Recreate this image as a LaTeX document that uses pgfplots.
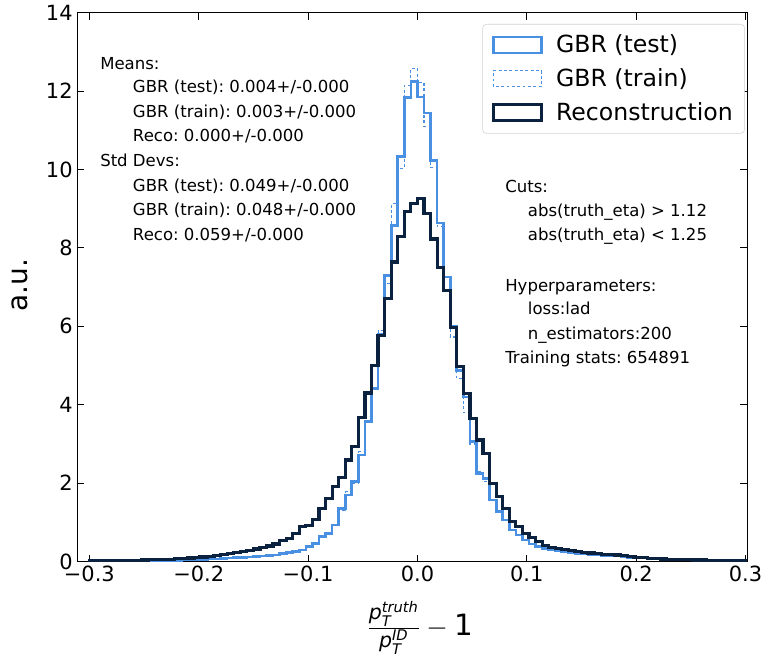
\documentclass[border=0pt]{standalone}
\usepackage{fontspec}
\setmainfont{DejaVu Sans}
\usepackage{amsmath}
\usepackage{pgfplots}
\pgfplotsset{compat=1.18}
\usepackage{pgfplotstable}
\definecolor{gbrblue}{HTML}{4A90E2}
\definecolor{reconavy}{HTML}{0A2240}
\frenchspacing

\pgfplotstableread{
x T Tr R
-0.300 0 0 0
-0.300 0.010 0.010 0.018
-0.294 0.010 0.010 0.020
-0.288 0.011 0.011 0.022
-0.282 0.012 0.012 0.025
-0.276 0.013 0.013 0.028
-0.270 0.015 0.015 0.030
-0.264 0.017 0.017 0.035
-0.258 0.019 0.019 0.038
-0.252 0.021 0.021 0.042
-0.246 0.023 0.023 0.046
-0.240 0.025 0.025 0.050
-0.234 0.027 0.028 0.056
-0.228 0.030 0.031 0.064
-0.222 0.035 0.036 0.074
-0.216 0.040 0.041 0.085
-0.210 0.045 0.046 0.095
-0.204 0.050 0.052 0.110
-0.198 0.056 0.058 0.120
-0.192 0.063 0.065 0.140
-0.186 0.070 0.072 0.160
-0.180 0.080 0.082 0.190
-0.174 0.090 0.092 0.210
-0.168 0.100 0.100 0.240
-0.162 0.110 0.110 0.260
-0.156 0.120 0.120 0.290
-0.150 0.130 0.135 0.320
-0.144 0.140 0.145 0.370
-0.138 0.155 0.160 0.400
-0.132 0.170 0.180 0.450
-0.126 0.200 0.200 0.530
-0.120 0.230 0.230 0.580
-0.114 0.250 0.260 0.720
-0.108 0.300 0.310 0.890
-0.102 0.380 0.390 0.930
-0.096 0.470 0.480 1.080
-0.090 0.640 0.620 1.360
-0.084 0.720 0.740 1.600
-0.078 0.930 0.950 1.910
-0.072 1.360 1.300 2.150
-0.066 1.700 1.780 2.590
-0.060 2.040 2.000 2.930
-0.054 2.720 2.800 3.680
-0.048 3.570 3.550 4.300
-0.042 4.410 4.450 5.010
-0.036 5.800 5.900 5.770
-0.030 7.300 7.100 6.710
-0.024 8.570 9.130 7.640
-0.018 10.340 10.020 8.300
-0.012 11.830 12.150 8.920
-0.006 12.250 12.580 9.140
0.000 11.850 12.220 9.270
0.006 11.440 11.100 8.870
0.012 10.230 10.060 8.230
0.018 8.640 8.550 7.510
0.024 7.260 6.920 6.920
0.030 5.990 5.730 5.980
0.036 4.880 4.670 4.970
0.042 4.200 3.800 4.290
0.048 3.060 3.000 3.650
0.054 2.250 2.300 3.100
0.060 2.120 2.050 2.760
0.066 1.570 1.550 1.990
0.072 1.270 1.300 1.660
0.078 1.060 1.050 1.360
0.084 0.810 0.830 1.020
0.090 0.680 0.660 0.890
0.096 0.550 0.560 0.720
0.102 0.450 0.460 0.620
0.108 0.380 0.380 0.510
0.114 0.340 0.340 0.420
0.120 0.300 0.300 0.370
0.126 0.270 0.270 0.330
0.132 0.250 0.250 0.300
0.138 0.230 0.230 0.280
0.144 0.210 0.210 0.260
0.150 0.200 0.200 0.240
0.156 0.180 0.180 0.220
0.162 0.170 0.170 0.210
0.168 0.160 0.160 0.190
0.174 0.150 0.150 0.180
0.180 0.140 0.140 0.170
0.186 0.130 0.130 0.150
0.192 0.110 0.110 0.130
0.198 0.100 0.100 0.110
0.204 0.090 0.090 0.100
0.210 0.080 0.080 0.085
0.216 0.070 0.070 0.075
0.222 0.060 0.060 0.065
0.228 0.055 0.055 0.060
0.234 0.050 0.050 0.055
0.240 0.045 0.045 0.050
0.246 0.040 0.040 0.045
0.252 0.037 0.037 0.042
0.258 0.034 0.034 0.040
0.264 0.031 0.031 0.035
0.270 0.028 0.028 0.032
0.276 0.025 0.025 0.030
0.282 0.022 0.022 0.028
0.288 0.020 0.020 0.025
0.294 0.018 0.018 0.022
0.300 0.018 0.018 0.022
0.300 0 0 0
}\histdata

\begin{document}
\begin{tikzpicture}
\begin{axis}[
  scale only axis,
  width=502.5pt, height=411.75pt,
  xmin=-0.311, xmax=0.3016, ymin=0, ymax=14,
  xtick={-0.3,-0.2,-0.1,0,0.1,0.2,0.3},
  xticklabels={−0.3,−0.2,−0.1,0.0,0.1,0.2,0.3},
  ytick={0,2,4,6,8,10,12,14},
  yticklabels={0,2,4,6,8,10,12,14},
  tick align=inside,
  major tick length=5.25pt,
  every tick/.style={black, line width=0.75pt},
  axis line style={line width=1pt},
  tick label style={font=\fontsize{15.7}{18}\selectfont},
  ylabel={a.u.},
  ylabel style={at={(rel axis cs:-0.0855,0.504)}, anchor=center, font=\fontsize{21}{25}\selectfont},
  xlabel={$\frac{\textit{p}_{\textit{T}}^{\textit{truth}}}{\textit{p}_{\textit{T}}^{\textit{ID}}}-\text{1}$},
  xlabel style={at={(rel axis cs:0.5115,-0.121)}, anchor=center, font=\fontsize{22}{26}\selectfont},
  legend cell align=left,
  legend image code/.code={\draw[#1, sharp corners, line join=miter] (0pt,-6pt) rectangle (36pt,6pt);},
  legend style={at={(0.9966,0.9794)}, anchor=north east, draw=black!18, rounded corners=3pt,
    font=\fontsize{17.7}{21}\selectfont, inner xsep=7pt, inner ysep=6pt, row sep=6.5pt,
    /tikz/every odd column/.append style={column sep=7.8pt}},
]
\addplot[const plot mark left, gbrblue, line width=2pt, line join=miter] table[x=x,y=T]{\histdata};
\addlegendentry{GBR (test)}
\addplot[const plot mark left, gbrblue, line width=0.85pt, dash pattern=on 2.2pt off 1.8pt] table[x=x,y=Tr]{\histdata};
\addlegendentry{GBR (train)}
\addplot[const plot mark left, reconavy, line width=2.4pt, line join=miter] table[x=x,y=R]{\histdata};
\addlegendentry{Reconstruction}
\coordinate (bl) at (rel axis cs:0,0);
\coordinate (tr) at (rel axis cs:1,1);
\end{axis}
\begin{scope}[every node/.style={anchor=base west, inner sep=0pt, font=\fontsize{12.4}{15}\selectfont}]
\node at ([shift={(17.0pt,369.3pt)}]bl) {Means:};
\node at ([shift={(41.55pt,351.75pt)}]bl) {GBR (test): 0.004+/-0.000};
\node at ([shift={(41.55pt,333.3pt)}]bl) {GBR (train): 0.003+/-0.000};
\node at ([shift={(41.55pt,315pt)}]bl) {Reco: 0.000+/-0.000};
\node at ([shift={(17.0pt,296.25pt)}]bl) {Std Devs:};
\node at ([shift={(41.55pt,277.5pt)}]bl) {GBR (test): 0.049+/-0.000};
\node at ([shift={(41.55pt,259.3pt)}]bl) {GBR (train): 0.048+/-0.000};
\node at ([shift={(41.55pt,240.75pt)}]bl) {Reco: 0.059+/-0.000};
\node at ([shift={(320.8pt,276.75pt)}]bl) {Cuts:};
\node at ([shift={(337.8pt,258.75pt)}]bl) {abs(truth\_eta) > 1.12};
\node at ([shift={(337.8pt,240.75pt)}]bl) {abs(truth\_eta) < 1.25};
\node at ([shift={(320.8pt,202.5pt)}]bl) {Hyperparameters:};
\node at ([shift={(337.8pt,185pt)}]bl) {loss:lad};
\node at ([shift={(337.8pt,166.8pt)}]bl) {n\_estimators:200};
\node at ([shift={(320.8pt,148.3pt)}]bl) {Training stats: 654891};
\end{scope}
\pgfresetboundingbox
\path ([shift={(-58pt,-71.5pt)}]bl) rectangle ([shift={(13.3pt,9.5pt)}]tr);
\end{tikzpicture}
\end{document}
